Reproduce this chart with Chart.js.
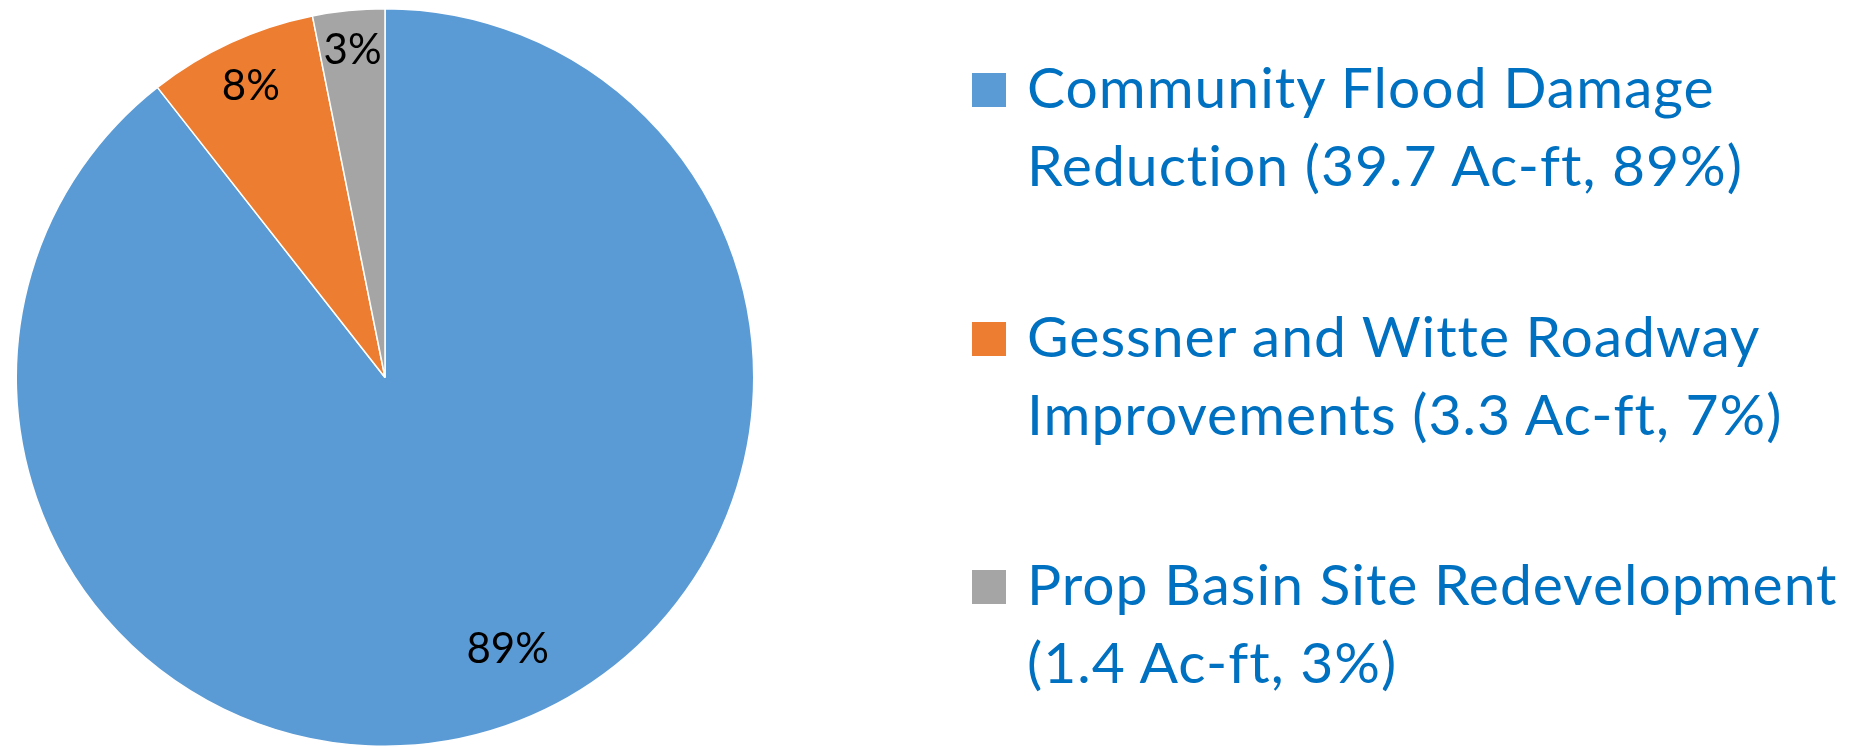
<!DOCTYPE html>
<html lang="en">
<head>
    <meta charset="UTF-8">
    <title>Detention volume by project</title>
    <script src="https://cdn.jsdelivr.net/npm/chart.js"></script>
    <style>
        html, body { margin: 0; padding: 0; background: #fff; }
        body { width: 1867px; height: 747px; position: relative; overflow: hidden; }
        #pieBox { position: absolute; left: 0; top: 0; width: 770px; height: 747px; }
        .item { position: absolute; left: 972px; display: flex; align-items: flex-start; }
        .box { width: 34px; height: 34px; margin-top: 26px; margin-right: 21px; flex: none; }
        .txt { font-family: Lato, "Noto Sans", sans-serif; font-size: 57px; line-height: 78px; letter-spacing: 1px;
               font-variant-ligatures: none; font-feature-settings: "liga" 0; color: #0070C0; white-space: nowrap; }
    </style>
</head>
<body>
    <div id="pieBox"><canvas id="myChart"></canvas></div>
    <div id="legend"></div>
    <script>
        // data
        var categories = [
            ['Community Flood Damage', 'Reduction (39.7 Ac-ft, 89%)'],
            ['Gessner and Witte Roadway', 'Improvements (3.3 Ac-ft, 7%)'],
            ['Prop Basin Site Redevelopment', '(1.4 Ac-ft, 3%)']
        ];
        var volumes = [39.7, 3.3, 1.4]; // Ac-ft
        var pieLabels = ['89%', '8%', '3%'];
        var sliceColors = ['#5B9BD5', '#ED7D31', '#A5A5A5'];

        // where the % text sits inside each slice (fraction of radius, angle nudge in degrees)
        var labelPlace = [{ r: 0.81, shift: -5.2 }, { r: 0.87, shift: 0 }, { r: 0.89, shift: 0 }];

        var sliceText = {
            id: 'sliceText',
            afterDatasetsDraw: function (chart) {
                var ctx = chart.ctx;
                var meta = chart.getDatasetMeta(0);
                ctx.save();
                ctx.font = '42px Lato, "Noto Sans", sans-serif';
                ctx.fillStyle = '#000';
                ctx.textAlign = 'center';
                ctx.textBaseline = 'middle';
                meta.data.forEach(function (arc, i) {
                    var p = arc.getProps(['x', 'y', 'startAngle', 'endAngle', 'outerRadius'], true);
                    var a = (p.startAngle + p.endAngle) / 2 + labelPlace[i].shift * Math.PI / 180;
                    var r = p.outerRadius * labelPlace[i].r;
                    ctx.fillText(pieLabels[i], p.x + r * Math.cos(a), p.y + r * Math.sin(a));
                });
                ctx.restore();
            }
        };

        var ctx = document.getElementById('myChart').getContext('2d');
        var myChart = new Chart(ctx, {
            type: 'pie',
            data: {
                labels: categories,
                datasets: [{
                    data: volumes,
                    backgroundColor: sliceColors,
                    borderColor: '#fff',
                    borderWidth: 1.5
                }]
            },
            options: {
                responsive: true,
                maintainAspectRatio: false,
                animation: false,
                layout: { padding: { top: 8, bottom: 0, left: 15, right: 15 } },
                plugins: {
                    legend: { display: false },
                    tooltip: { enabled: false }
                }
            },
            plugins: [sliceText]
        });

        // legend on the right, built from the chart's own data
        var legend = document.getElementById('legend');
        myChart.data.labels.forEach(function (lines, i) {
            var item = document.createElement('div');
            item.className = 'item';
            item.style.top = (47 + i * 248.5) + 'px';
            var box = document.createElement('div');
            box.className = 'box';
            box.style.background = myChart.data.datasets[0].backgroundColor[i];
            var txt = document.createElement('div');
            txt.className = 'txt';
            txt.innerHTML = lines.join('<br>');
            item.appendChild(box);
            item.appendChild(txt);
            legend.appendChild(item);
        });
    </script>
</body>
</html>
